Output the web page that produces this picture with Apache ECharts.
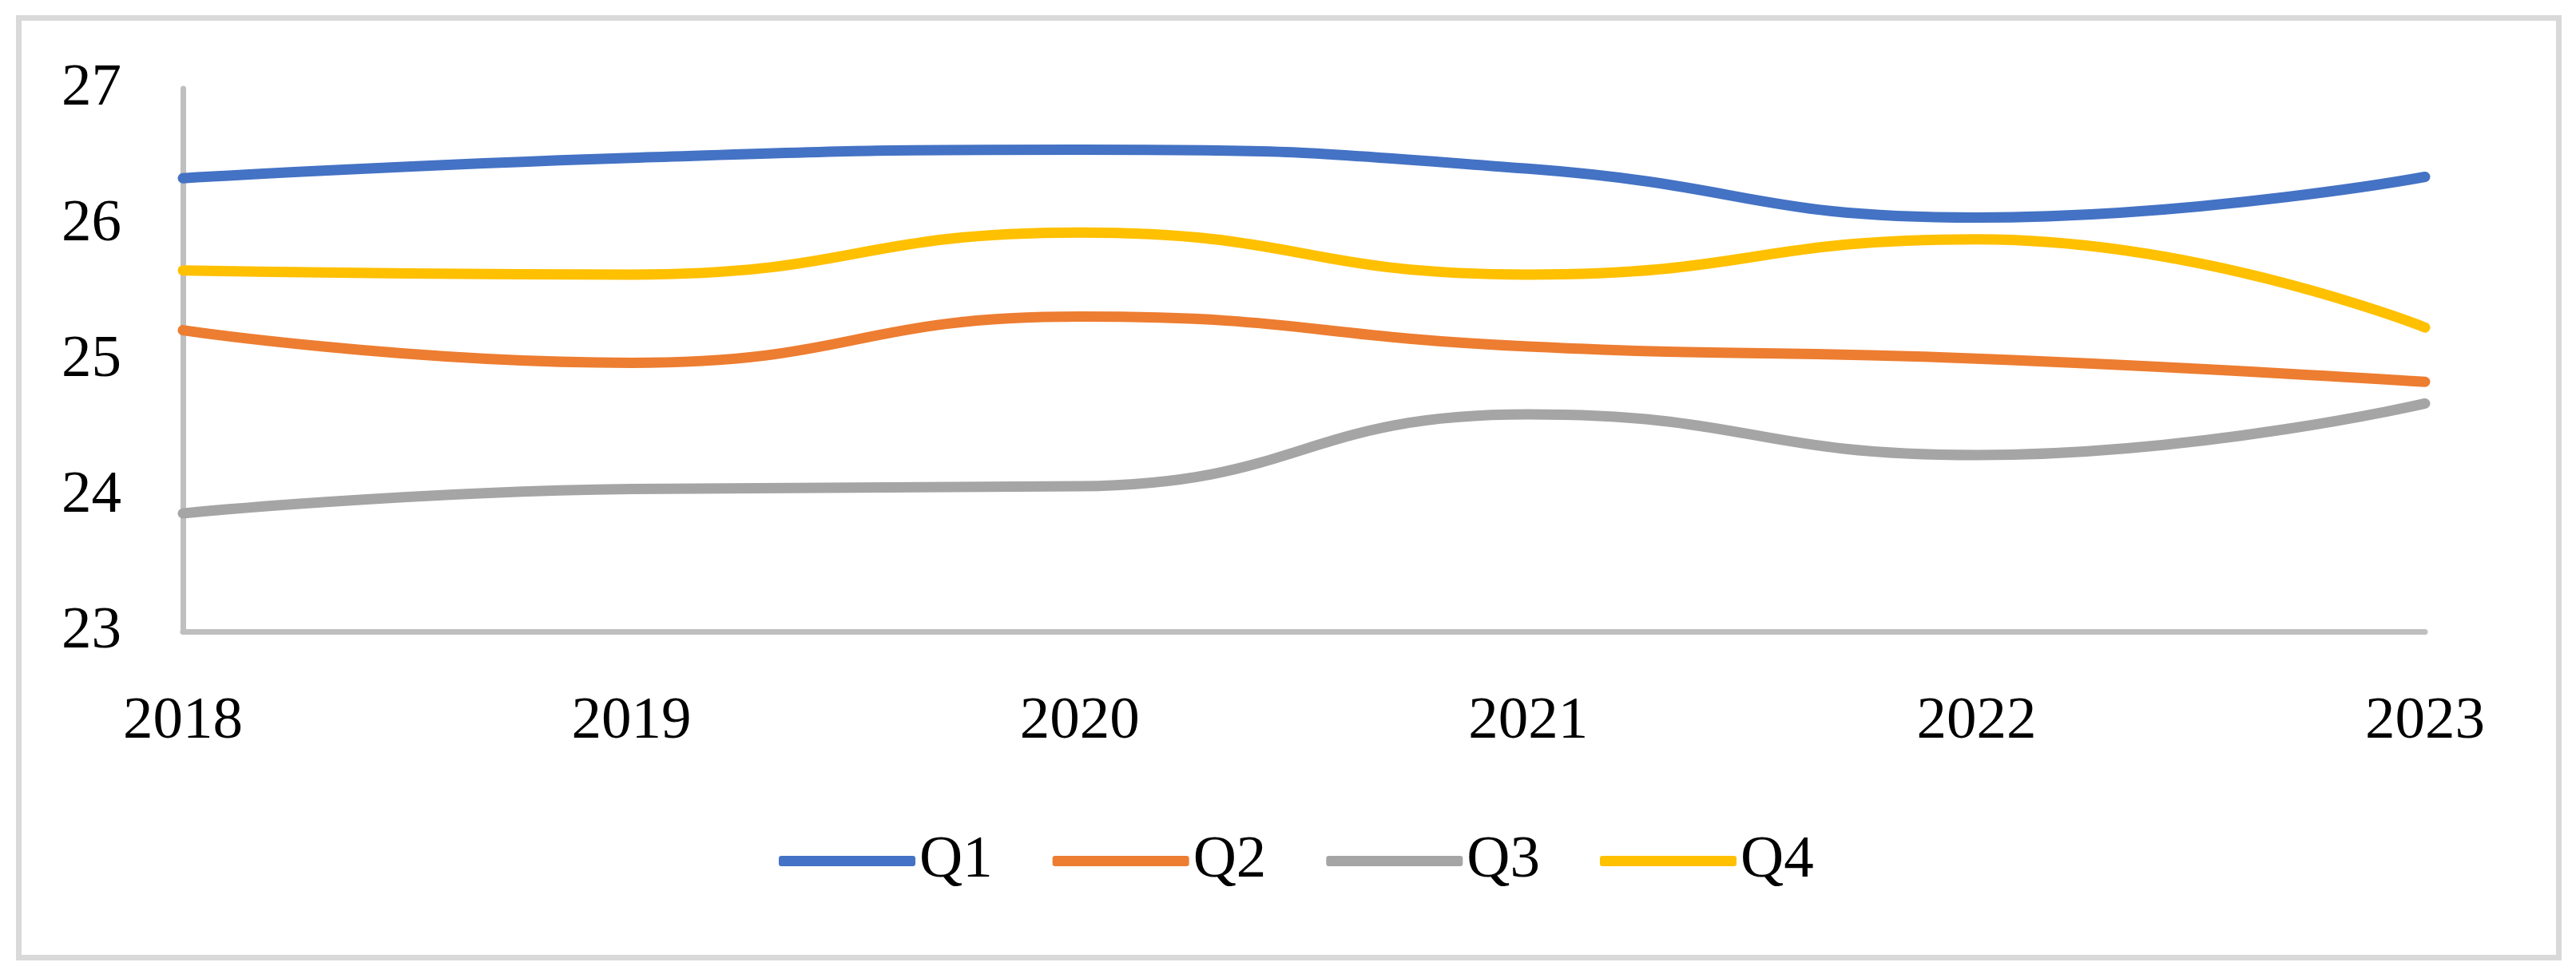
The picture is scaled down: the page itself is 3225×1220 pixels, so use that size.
<!DOCTYPE html>
<html>
<head>
<meta charset="utf-8">
<script src="https://cdn.jsdelivr.net/npm/echarts@6/dist/echarts.min.js"></script>
<style>
html,body{margin:0;padding:0;background:#fff;}
#chart{width:3225px;height:1220px;}
</style>
</head>
<body>
<div id="chart"></div>
<script>
const years = ['2018', '2019', '2020', '2021', '2022', '2023'];
const q1 = [26.34, 26.49, 26.55, 26.41, 26.05, 26.35];
const q2 = [25.22, 24.98, 25.32, 25.10, 25.01, 24.84];
const q3 = [23.87, 24.05, 24.07, 24.60, 24.30, 24.68];
const q4 = [25.66, 25.63, 25.94, 25.63, 25.89, 25.24];
const seriesNames = ['Q1', 'Q2', 'Q3', 'Q4'];
const seriesData = [q1, q2, q3, q4];
const colors = ['#4472C4', '#ED7D31', '#A5A5A5', '#FFC000'];

const FONT = '"Liberation Serif", "Times New Roman", serif';
const chart = echarts.init(document.getElementById('chart'), null, {renderer: 'canvas'});
chart.setOption({
  animation: false,
  backgroundColor: '#ffffff',
  color: colors,
  graphic: [{
    type: 'rect',
    shape: {x: 23.5, y: 22.5, width: 3180, height: 1177},
    style: {fill: 'none', stroke: '#d9d9d9', lineWidth: 7},
    silent: true
  }],
  grid: {left: 229, right: 189, top: 111, bottom: 429, containLabel: false},
  legend: {
    left: 970,
    top: 1036,
    icon: 'roundRect',
    itemWidth: 171,
    itemHeight: 13,
    itemGap: 75,
    textStyle: {fontFamily: FONT, fontSize: 75, color: '#000', lineHeight: 75},
    data: seriesNames
  },
  xAxis: {
    type: 'category',
    data: years,
    boundaryGap: false,
    axisLine: {lineStyle: {color: '#bfbfbf', width: 7}},
    axisTick: {show: false},
    axisLabel: {fontFamily: FONT, fontSize: 75, color: '#000', margin: 76, lineHeight: 75}
  },
  yAxis: {
    type: 'value',
    min: 23, max: 27, interval: 1,
    axisLine: {show: true, lineStyle: {color: '#bfbfbf', width: 7}},
    axisTick: {show: false},
    splitLine: {show: false},
    axisLabel: {fontFamily: FONT, fontSize: 75, color: '#000', margin: 77}
  },
  series: seriesNames.map((n, i) => ({
    name: n,
    type: 'line',
    data: seriesData[i],
    smooth: 0.5,
    showSymbol: false,
    symbol: 'none',
    lineStyle: {width: 13, color: colors[i], cap: 'round', join: 'round'},
    itemStyle: {color: colors[i]}
  }))
});
</script>
</body>
</html>
